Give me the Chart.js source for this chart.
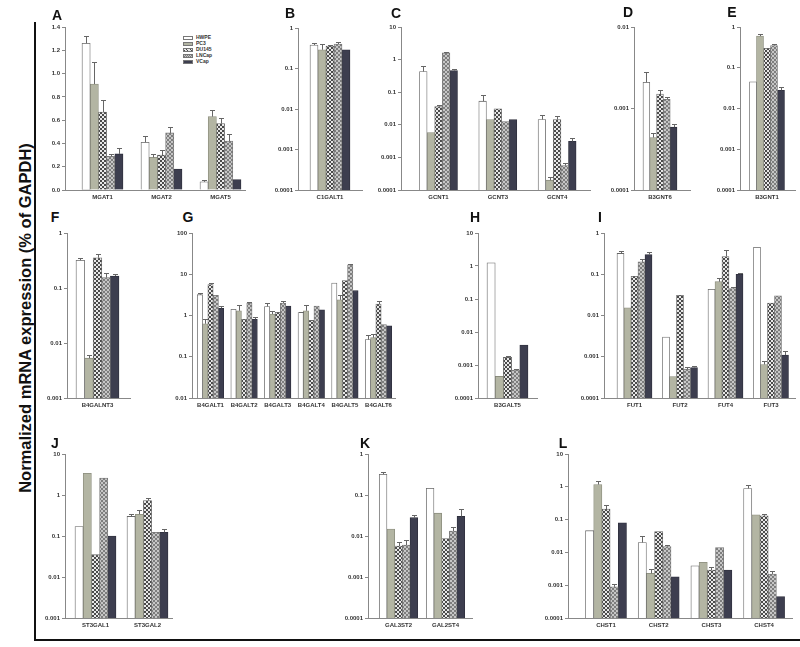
<!DOCTYPE html>
<html>
<head>
<meta charset="utf-8">
<script src="https://cdn.jsdelivr.net/npm/chart.js@4.4.0/dist/chart.umd.min.js"></script>
<style>
body { margin: 0; background: #fff; width: 800px; height: 647px; overflow: hidden; position: relative; font-family: "Liberation Sans", Arial, sans-serif; }
canvas { position: absolute; }
.letter { position: absolute; font-weight: bold; font-size: 14px; color: #111; transform: translate(-50%, -50%); }
#ytitle { position: absolute; width: 420px; height: 20px; line-height: 20px; text-align: center; font-weight: bold; font-size: 16.5px; color: #111; transform: rotate(-90deg); }
.rule { position: absolute; background: #111; }
#legend { position: absolute; left: 183px; top: 34px; font-size: 5px; font-weight: bold; color: #333; }
#legend div { height: 6px; line-height: 6px; white-space: nowrap; }
#legend span { display: inline-block; width: 10px; height: 4px; margin-right: 3px; vertical-align: middle; border: 0.5px solid #777; box-sizing: border-box; }
</style>
</head>
<body>
<div id="ytitle">Normalized mRNA expression (% of GAPDH)</div>
<div class="rule" style="left:34px;top:22px;width:2px;height:619px"></div>
<div class="rule" style="left:34px;top:639px;width:766px;height:2px"></div>
<div id="legend"></div>
<script>
const series = ['HWPE', 'PC3', 'DU145', 'LNCap', 'VCap'];

// A - linear scale
const catsA = ['MGAT1', 'MGAT2', 'MGAT5'];
const valsA = [[1.26, 0.41, 0.07], [0.91, 0.28, 0.63], [0.67, 0.30, 0.57], [0.29, 0.49, 0.42], [0.31, 0.18, 0.09]];
const errA = [[1.32, 0.46, 0.085], [1.10, 0.31, 0.69], [0.77, 0.34, 0.62], [0.31, 0.54, 0.48], [0.36, null, null]];
const ticksA = [0, 0.2, 0.4, 0.6, 0.8, 1.0, 1.2, 1.4];

const catsB = ['C1GALT1'];
const valsB = [[0.38], [0.29], [0.36], [0.40], [0.29]];
const errB = [[0.43], [0.40], [0.39], [0.45], [null]];
const ticksB = [0.0001, 0.001, 0.01, 0.1, 1];

const catsC = ['GCNT1', 'GCNT3', 'GCNT4'];
const valsC = [[0.43, 0.053, 0.0145], [0.0058, 0.0145, 0.0002], [0.036, 0.031, 0.0145], [1.6, 0.0125, 0.00056], [0.46, 0.0145, 0.0031]];
const errC = [[0.64, 0.084, 0.02], [null, null, 0.00025], [0.04, null, 0.018], [1.7, null, 0.00065], [0.5, null, 0.0038]];
const ticksC = [0.0001, 0.001, 0.01, 0.1, 1, 10];

const catsD = ['B3GNT6'];
const valsD = [[0.0021], [0.00044], [0.0015], [0.0013], [0.00059]];
const errD = [[0.0028], [0.0005], [0.0017], [0.0014], [0.00065]];
const ticksD = [0.0001, 0.001, 0.01];

const catsE = ['B3GNT1'];
const valsE = [[0.045], [0.6], [0.3], [0.35], [0.028]];
const errE = [[null], [0.66], [null], [0.38], [0.034]];
const ticksE = [0.0001, 0.001, 0.01, 0.1, 1];

const catsF = ['B4GALNT3'];
const valsF = [[0.32], [0.0053], [0.355], [0.154], [0.165]];
const errF = [[0.35], [0.006], [0.42], [0.19], [0.18]];
const ticksF = [0.001, 0.01, 0.1, 1];

const catsG = ['B4GALT1', 'B4GALT2', 'B4GALT3', 'B4GALT4', 'B4GALT5', 'B4GALT6'];
const valsG = [
  [3.2, 1.42, 1.65, 1.18, 6.1, 0.26],
  [0.63, 1.3, 1.08, 1.3, 2.4, 0.29],
  [5.6, 0.81, 1.2, 0.76, 7.0, 1.9],
  [3.1, 2.0, 2.0, 1.7, 17, 0.6],
  [1.5, 0.81, 1.7, 1.37, 4.0, 0.56]
];
const errG = [
  [3.5, null, 2.0, 1.25, null, 0.33],
  [0.8, 1.75, 1.3, 1.75, 3.1, 0.35],
  [6.3, null, null, null, null, 2.3],
  [null, 2.1, 2.2, null, 17.7, null],
  [1.7, 0.9, null, null, null, null]
];
const ticksG = [0.01, 0.1, 1, 10, 100];

const catsH = ['B3GALT5'];
const valsH = [[1.25], [0.00045], [0.0017], [0.0007], [0.004]];
const errH = [[null], [null], [0.0019], [0.00075], [null]];
const ticksH = [0.0001, 0.001, 0.01, 0.1, 1, 10];

const catsI = ['FUT1', 'FUT2', 'FUT4', 'FUT3'];
const valsI = [[0.32, 0.003, 0.043, 0.45], [0.0154, 0.00033, 0.066, 0.00065], [0.089, 0.031, 0.27, 0.02], [0.2, 0.0005, 0.045, 0.03], [0.3, 0.00055, 0.1, 0.0011]];
const errI = [[0.37, null, null, null], [null, null, 0.08, 0.0008], [null, null, 0.39, null], [0.24, 0.00058, 0.05, null], [0.35, 0.0006, 0.11, 0.0014]];
const ticksI = [0.0001, 0.001, 0.01, 0.1, 1];

const catsJ = ['ST3GAL1', 'ST3GAL2'];
const valsJ = [[0.17, 0.3], [3.4, 0.34], [0.035, 0.73], [2.6, 0.123], [0.1, 0.123]];
const errJ = [[null, 0.35], [null, 0.43], [null, 0.83], [null, null], [null, 0.145]];
const ticksJ = [0.001, 0.01, 0.1, 1, 10];

const catsK = ['GAL3ST2', 'GAL2ST4'];
const valsK = [[0.32, 0.145], [0.0148, 0.036], [0.0057, 0.0087], [0.006, 0.0132], [0.028, 0.03]];
const errK = [[0.37, null], [null, null], [0.0073, null], [0.008, 0.017], [0.032, 0.045]];
const ticksK = [0.0001, 0.001, 0.01, 0.1, 1];

const catsL = ['CHST1', 'CHST2', 'CHST3', 'CHST4'];
const valsL = [[0.046, 0.02, 0.0039, 0.89], [1.17, 0.0023, 0.005, 0.14], [0.21, 0.043, 0.0029, 0.13], [0.00089, 0.015, 0.014, 0.0022], [0.08, 0.0018, 0.0029, 0.00045]];
const errL = [[null, 0.032, null, 1.17], [1.5, 0.0031, null, null], [0.28, null, 0.0037, 0.15], [0.0011, 0.017, null, 0.0028], [null, null, null, null]];
const ticksL = [0.0001, 0.001, 0.01, 0.1, 1, 10];

const FONT = '"Liberation Sans", Arial, sans-serif';

// bar fills
function makePattern(size, draw) {
  const c = document.createElement('canvas');
  c.width = c.height = size;
  const g = c.getContext('2d');
  draw(g);
  return g.createPattern(c, 'repeat');
}
const hatch = makePattern(4, g => {
  g.fillStyle = '#e8e8e8'; g.fillRect(0, 0, 4, 4);
  g.strokeStyle = '#4a4a4a'; g.lineWidth = 1;
  g.beginPath();
  g.moveTo(0, 4); g.lineTo(4, 0);
  g.moveTo(-1, 1); g.lineTo(1, -1);
  g.moveTo(3, 5); g.lineTo(5, 3);
  g.moveTo(0, 0); g.lineTo(4, 4);
  g.stroke();
});
const checker = makePattern(4, g => {
  g.fillStyle = '#c6c6c6'; g.fillRect(0, 0, 4, 4);
  g.fillStyle = '#7e7e7e';
  g.fillRect(0, 0, 2, 2); g.fillRect(2, 2, 2, 2);
});
const fills = ['#ffffff', '#b3b5a3', hatch, checker, '#3d3e4f'];
const edges = ['#666', '#8a8c7c', '#666', '#777', '#2e2f3c'];

// legend
const legend = document.getElementById('legend');
const swatchCss = [
  'background:#fff',
  'background:#b3b5a3',
  'background:repeating-linear-gradient(45deg,#4a4a4a 0 1px,#e8e8e8 1px 2.5px)',
  'background:repeating-conic-gradient(#7e7e7e 0 25%,#c6c6c6 0 50%) 0 0/2px 2px',
  'background:#3d3e4f'
];
series.forEach((s, i) => {
  const row = document.createElement('div');
  row.innerHTML = '<span style="' + swatchCss[i] + '"></span>' + s;
  legend.appendChild(row);
});

const ytitle = document.getElementById('ytitle');
ytitle.style.left = (25 - 210) + 'px';
ytitle.style.top = (318 - 10) + 'px';

function letter(t, x, y) {
  const d = document.createElement('div');
  d.className = 'letter';
  d.textContent = t;
  d.style.left = x + 'px';
  d.style.top = y + 'px';
  document.body.appendChild(d);
}

function errorBars(upper) {
  return {
    id: 'errorBars',
    afterDatasetsDraw(chart) {
      const ctx = chart.ctx;
      const y = chart.scales.y;
      ctx.save();
      ctx.strokeStyle = '#666';
      ctx.lineWidth = 1;
      upper.forEach((row, i) => {
        chart.getDatasetMeta(i).data.forEach((bar, j) => {
          const hi = row[j];
          if (hi == null) return;
          const py = Math.round(y.getPixelForValue(hi)) + 0.5;
          const px = Math.round(bar.x) + 0.5;
          ctx.beginPath();
          ctx.moveTo(px, bar.y);
          ctx.lineTo(px, py);
          ctx.moveTo(px - 2.5, py);
          ctx.lineTo(px + 2.5, py);
          ctx.stroke();
        });
      });
      ctx.restore();
    }
  };
}

function panel(cats, vals, errs, ticks, lay, isLinear) {
  const yw = 30, pt = 8, pr = lay.pr || 10, xh = 14;
  const cv = document.createElement('canvas');
  cv.width = lay.R - lay.L + yw + pr;
  cv.height = lay.B - lay.T + pt + xh;
  cv.style.left = (lay.L - yw) + 'px';
  cv.style.top = (lay.T - pt) + 'px';
  document.body.appendChild(cv);

  const xmin = -(lay.c0 - lay.L) / lay.step;
  const xmax = xmin + (lay.R - lay.L) / lay.step;
  const tickFont = { size: 6, weight: 'bold', family: FONT };

  new Chart(cv, {
    type: 'bar',
    data: {
      datasets: series.map((s, i) => ({
        label: s,
        data: vals[i].map((v, j) => ({ x: j, y: v })),
        backgroundColor: fills[i],
        borderColor: edges[i],
        borderWidth: 0.8,
        barThickness: lay.bw
      }))
    },
    options: {
      responsive: false,
      animation: false,
      events: [],
      layout: { padding: { top: pt, right: pr, left: 0, bottom: 0 } },
      plugins: { legend: { display: false }, tooltip: { enabled: false } },
      scales: {
        x: {
          type: 'linear',
          min: xmin,
          max: xmax,
          offset: false,
          afterBuildTicks: ax => { ax.ticks = cats.map((c, i) => ({ value: i })); },
          afterFit: ax => { ax.height = xh; },
          grid: { display: false, drawTicks: false },
          border: { display: true, color: '#888', width: 1 },
          ticks: { autoSkip: false, maxRotation: 0, padding: 4, font: tickFont, color: '#333', callback: v => cats[v] }
        },
        y: {
          type: isLinear ? 'linear' : 'logarithmic',
          min: ticks[0],
          max: ticks[ticks.length - 1],
          afterBuildTicks: ax => { ax.ticks = ticks.map(v => ({ value: v })); },
          afterFit: ax => { ax.width = yw; },
          grid: { drawOnChartArea: false, drawTicks: true, tickLength: 3, color: '#888' },
          border: { color: '#888', width: 1 },
          ticks: {
            padding: 2, font: tickFont, color: '#333',
            callback: v => isLinear ? v.toFixed(1) : String(v)
          }
        }
      }
    },
    plugins: [errorBars(errs)]
  });
}

panel(catsA, valsA, errA, ticksA, { L: 65, R: 245, T: 27, B: 190, c0: 102.5, step: 59, bw: 8.2 }, true);
panel(catsB, valsB, errB, ticksB, { L: 298, R: 362, T: 28, B: 190, c0: 330, step: 60, bw: 8 });
panel(catsC, valsC, errC, ticksC, { L: 401, R: 590, T: 27, B: 190, c0: 438.5, step: 59.3, bw: 7.6 });
panel(catsD, valsD, errD, ticksD, { L: 634, R: 690, T: 27, B: 190, c0: 660, step: 50, bw: 6.8 });
panel(catsE, valsE, errE, ticksE, { L: 740, R: 795, T: 27, B: 190, c0: 767, step: 50, bw: 7, pr: 5 });
panel(catsF, valsF, errF, ticksF, { L: 67, R: 130, T: 233, B: 398, c0: 97.5, step: 60, bw: 8.6 });
panel(catsG, valsG, errG, ticksG, { L: 192, R: 395, T: 233, B: 398, c0: 210.5, step: 33.6, bw: 5.3 });
panel(catsH, valsH, errH, ticksH, { L: 478, R: 537, T: 233, B: 398, c0: 507.5, step: 50, bw: 8.2 });
panel(catsI, valsI, errI, ticksI, { L: 604, R: 795, T: 233, B: 398, c0: 634.5, step: 45.5, bw: 7, pr: 5 });
panel(catsJ, valsJ, errJ, ticksJ, { L: 65, R: 172, T: 454, B: 618, c0: 95.5, step: 52, bw: 8.2 });
panel(catsK, valsK, errK, ticksK, { L: 368, R: 472, T: 454, B: 618, c0: 398.5, step: 47, bw: 7.7 });
panel(catsL, valsL, errL, ticksL, { L: 568, R: 792, T: 454, B: 618, c0: 606, step: 52.7, bw: 8.2, pr: 6 });

letter('A', 57, 15); letter('B', 290, 13); letter('C', 396, 13); letter('D', 628, 12); letter('E', 732, 12);
letter('F', 55, 217); letter('G', 188, 217); letter('H', 475, 217); letter('I', 600, 217);
letter('J', 55, 443); letter('K', 365, 443); letter('L', 563, 443);
</script>
</body>
</html>
